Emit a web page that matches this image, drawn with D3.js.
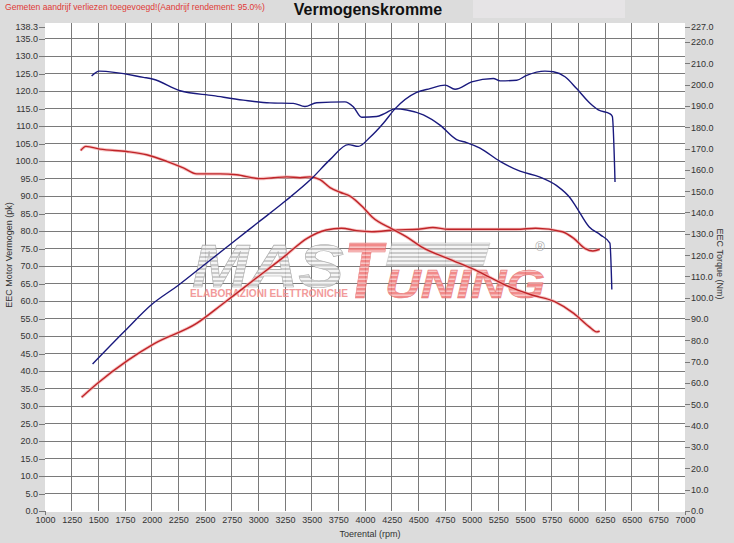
<!DOCTYPE html>
<html>
<head>
<meta charset="utf-8">
<script src="https://cdn.jsdelivr.net/npm/d3@7"></script>
<style>
  body { margin: 0; background: #dcdcdc; }
  svg { display: block; font-family: "Liberation Sans", Arial, sans-serif; }
</style>
</head>
<body>
<div id="graph"></div>
<script>
//[rpm, value]
//power in pk (left axis), torque in Nm (right axis)
const bluePower = [[1446,42.0],[1750,51.5],[2000,59.0],[2250,64.5],[2500,70.5],[2750,76.5],[3000,82.5],
    [3250,88.5],[3500,95.0],[3672,100.4],[3844,104.7],[3937,104.2],[4047,106.8],[4172,110.8],
    [4281,114.9],[4484,119.6],[4609,120.7],[4750,121.7],[4844,120.5],[5000,122.6],[5203,123.6],[5266,122.9],
    [5422,123.1],[5516,124.5],[5687,125.7],[5766,125.5],[5875,124.1],[5984,120.7],[6109,116.5],[6187,114.6],
    [6297,113.5],[6319,112.7],[6344,94.0]];

const blueTorque = [[1437,204.0],[1509,206.3],[1922,203.4],[2016,202.5],[2266,197.1],[2578,194.8],[2859,192.7],
    [3109,191.4],[3328,191.2],[3437,189.7],[3547,191.5],[3812,191.9],[3890,189.6],[3969,184.7],[4109,185.0],
    [4187,186.5],[4281,188.6],[4391,188.1],[4547,185.8],[4703,181.0],[4859,174.2],[4953,172.8],[5078,170.2],
    [5266,164.0],[5453,159.4],[5641,156.6],[5797,152.6],[5922,146.9],[5984,142.3],[6100,133.3],[6207,129.5],
    [6296,125.6],[6314,103.9]];

const redPower = [[1343,32.5],[1493,36.5],[1779,43.1],[2029,47.9],[2421,53.6],[2671,59.3],[2957,66.0],
    [3243,72.7],[3457,77.9],[3636,80.3],[3779,80.8],[3921,80.1],[4064,79.8],[4279,80.3],[4493,80.5],
    [4636,81.0],[4779,80.5],[5064,80.5],[5421,80.5],[5600,80.8],[5850,79.8],[5957,77.9],[6064,75.0],
    [6136,74.3],[6200,74.8]];

const redTorque = [[1334,169.1],[1384,171.0],[1516,169.7],[1766,168.6],[1953,167.1],[2141,164.0],[2297,160.9],
    [2422,158.1],[2641,158.1],[2797,157.7],[3016,155.9],[3141,156.3],[3266,156.7],[3391,156.3],[3484,156.7],
    [3578,155.4],[3672,151.7],[3766,149.5],[3859,147.7],[3984,142.3],[4064,138.0],[4261,132.1],[4386,128.7],
    [4529,123.9],[4814,117.7],[5064,112.3],[5314,106.0],[5564,101.3],[5779,98.2],[5957,92.7],[6100,86.5],
    [6171,84.0],[6200,84.4]];

//tick values
const rpmTicks = d3.range(1000, 7001, 250);
const pkTicks = d3.range(0, 136, 5).concat([138.3]);
const nmTicks = d3.range(0, 221, 10).concat([227]);

const titleText = "Vermogenskromme";
const noteText = "Gemeten aandrijf verliezen toegevoegd!(Aandrijf rendement: 95.0%)";

const width = 734, height = 543;
const plot = {left: 45, right: 685, top: 27, bottom: 511};

let svg = d3.select("#graph")
    .append("svg")
    .attr("width", width)
    .attr("height", height);

//background + faint box next to the title
svg.append("rect").attr("width", width).attr("height", height).attr("fill", "#dcdcdc");
svg.append("rect").attr("x", 473).attr("y", 0).attr("width", 152).attr("height", 18).attr("fill", "#e6e4e6");

//scales
let x = d3.scaleLinear().domain([1000, 7000]).range([plot.left, plot.right]);
let yL = d3.scaleLinear().domain([0, 138.3]).range([plot.bottom, plot.top]);
let yR = d3.scaleLinear().domain([0, 227]).range([plot.bottom, plot.top]);

//plot area
svg.append("rect")
    .attr("x", plot.left).attr("y", 23)
    .attr("width", plot.right - plot.left).attr("height", plot.bottom - 23 + 1)
    .attr("fill", "#ffffff");

//grid
let grid = svg.append("g").attr("stroke", "#7a7a7a").attr("stroke-width", 1).attr("shape-rendering", "crispEdges");
grid.selectAll(".v").data(rpmTicks.filter(d => d > 1000 && d < 7000))
    .enter().append("line")
    .attr("x1", d => x(d)).attr("x2", d => x(d))
    .attr("y1", 23).attr("y2", plot.bottom);
grid.selectAll(".h").data(pkTicks.filter(d => d > 0 && d < 138))
    .enter().append("line")
    .attr("x1", plot.left).attr("x2", plot.right)
    .attr("y1", d => yL(d)).attr("y2", d => yL(d));

//watermark
let defs = svg.append("defs");
let grayPat = defs.append("pattern").attr("id", "grayStripes")
    .attr("patternUnits", "userSpaceOnUse").attr("width", 8).attr("height", 4);
grayPat.append("rect").attr("width", 8).attr("height", 4).attr("fill", "#f4f4f4");
grayPat.append("rect").attr("width", 8).attr("height", 2).attr("fill", "#c2c2c2");
let redPat = defs.append("pattern").attr("id", "redStripes")
    .attr("patternUnits", "userSpaceOnUse").attr("width", 8).attr("height", 4);
redPat.append("rect").attr("width", 8).attr("height", 4).attr("fill", "#f8bcbc");
redPat.append("rect").attr("width", 8).attr("height", 2.4).attr("fill", "#f07676");

let logo = svg.append("g").attr("opacity", 0.85);
logo.append("text")
    .attr("x", 192).attr("y", 287)
    .attr("font-size", 62).attr("font-weight", "bold").attr("font-style", "italic")
    .attr("textLength", 152).attr("lengthAdjust", "spacingAndGlyphs")
    .attr("fill", "url(#grayStripes)").attr("stroke", "#a0a0a0").attr("stroke-width", 0.6)
    .text("MAS");
logo.append("path")
    .attr("fill", "url(#grayStripes)").attr("stroke", "#aaaaaa").attr("stroke-width", 0.5)
    .attr("d", "M392,243 L490,243 L483,266 L386,266 Z");
logo.append("text")
    .attr("x", 190).attr("y", 297)
    .attr("font-size", 10).attr("font-weight", "bold")
    .attr("textLength", 158).attr("lengthAdjust", "spacingAndGlyphs")
    .attr("fill", "#f08a8a")
    .text("ELABORAZIONI ELETTRONICHE");
logo.append("text")
    .attr("x", 344).attr("y", 298)
    .attr("font-size", 80).attr("font-weight", "bold").attr("font-style", "italic")
    .attr("textLength", 38).attr("lengthAdjust", "spacingAndGlyphs")
    .attr("fill", "url(#redStripes)").attr("stroke", "#e46a6a").attr("stroke-width", 0.6)
    .text("T");
logo.append("text")
    .attr("x", 385).attr("y", 298)
    .attr("font-size", 41).attr("font-weight", "bold").attr("font-style", "italic")
    .attr("textLength", 160).attr("lengthAdjust", "spacingAndGlyphs")
    .attr("fill", "url(#redStripes)").attr("stroke", "#e46a6a").attr("stroke-width", 0.6)
    .text("UNING");
logo.append("text")
    .attr("x", 540).attr("y", 251)
    .attr("font-size", 13).attr("text-anchor", "middle")
    .attr("fill", "#a0a0a0")
    .text("\u00AE");

//axes
let fmt = d3.format(".1f");

let leftAxis = svg.append("g")
    .attr("transform", `translate(${plot.left},0)`)
    .call(d3.axisLeft(yL).tickValues(pkTicks).tickSize(6).tickPadding(1).tickFormat(fmt));

let rightAxis = svg.append("g")
    .attr("transform", `translate(${plot.right},0)`)
    .call(d3.axisRight(yR).tickValues(nmTicks).tickSize(5).tickPadding(1).tickFormat(fmt));

let bottomAxis = svg.append("g")
    .attr("transform", `translate(0,${plot.bottom})`)
    .call(d3.axisBottom(x).tickValues(rpmTicks).tickSize(0).tickPadding(6).tickFormat(d3.format("d")));

[leftAxis, rightAxis, bottomAxis].forEach(function(a) {
    a.select(".domain").remove();
    a.selectAll("line").attr("stroke", "#7a7a7a").attr("shape-rendering", "crispEdges");
    a.selectAll("text").attr("fill", "#333").style("font-size", "9px")
        .style("font-family", "'Liberation Sans', Arial, sans-serif");
});

//little end ticks under the x axis
svg.append("g").attr("stroke", "#7a7a7a").attr("shape-rendering", "crispEdges")
    .selectAll("line").data([1000, 7000]).enter().append("line")
    .attr("x1", d => x(d)).attr("x2", d => x(d))
    .attr("y1", plot.bottom).attr("y2", plot.bottom + 4);

//curves
let lineL = d3.line().x(d => x(d[0])).y(d => yL(d[1])).curve(d3.curveMonotoneX);
let lineR = d3.line().x(d => x(d[0])).y(d => yR(d[1])).curve(d3.curveMonotoneX);

let curves = [
    {data: redPower, line: lineL, color: "#bf2428", glow: "#f4a8a8"},
    {data: redTorque, line: lineR, color: "#bf2428", glow: "#f4a8a8"},
    {data: bluePower, line: lineL, color: "#1a1a7e", glow: null},
    {data: blueTorque, line: lineR, color: "#1a1a7e", glow: null}
];

curves.forEach(function(c) {
    if (c.glow) {
        svg.append("path")
            .attr("d", c.line(c.data))
            .attr("fill", "none")
            .attr("stroke", c.glow)
            .attr("stroke-width", 3.2)
            .attr("opacity", 0.7);
    }
    svg.append("path")
        .attr("d", c.line(c.data))
        .attr("fill", "none")
        .attr("stroke", c.color)
        .attr("stroke-width", 1.4)
        .attr("stroke-linejoin", "round");
});

//titles
svg.append("text")
    .attr("x", 368).attr("y", 15)
    .attr("text-anchor", "middle")
    .style("font-size", "16px").style("font-weight", "bold")
    .attr("fill", "#111")
    .text(titleText);

svg.append("text")
    .attr("x", 5).attr("y", 10)
    .style("font-size", "8.6px")
    .attr("fill", "#e03a36")
    .text(noteText);

svg.append("text")
    .attr("transform", `translate(12,255) rotate(-90)`)
    .attr("text-anchor", "middle")
    .style("font-size", "9px")
    .attr("fill", "#333")
    .text("EEC Motor Vermogen (pk)");

svg.append("text")
    .attr("transform", `translate(717,264) rotate(90)`)
    .attr("text-anchor", "middle")
    .style("font-size", "9px")
    .attr("fill", "#333")
    .text("EEC Torque (Nm)");

svg.append("text")
    .attr("x", 370).attr("y", 537)
    .attr("text-anchor", "middle")
    .style("font-size", "9px")
    .attr("fill", "#333")
    .text("Toerental (rpm)");
</script>
</body>
</html>
